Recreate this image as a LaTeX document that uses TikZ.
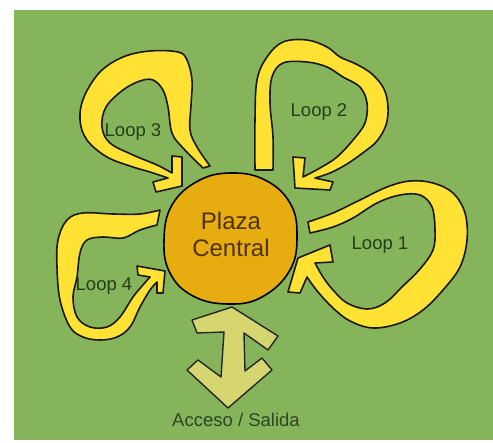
\documentclass[tikz,border=0pt]{standalone}
\usepackage{fontspec}
\setmainfont{Liberation Sans}
\definecolor{lawn}{RGB}{134,180,90}
\definecolor{loopyellow}{RGB}{255,226,52}
\definecolor{plazagold}{RGB}{230,172,16}
\definecolor{gatepale}{RGB}{214,214,112}
\definecolor{labelgreen}{RGB}{36,62,26}
\definecolor{plazabrown}{RGB}{78,50,4}

\begin{document}
\begin{tikzpicture}[x=1pt, y=-1pt, line width=1.6pt, line join=round, line cap=round,
  band/.style={fill=loopyellow, draw=black!90},
  looplabel/.style={anchor=base, inner sep=0pt, text=labelgreen, font=\fontsize{18.5}{22}\selectfont},
  plazalabel/.style={anchor=base, inner sep=0pt, text=plazabrown, font=\fontsize{24}{28}\selectfont}]
  % white margin round the green field fixes the page size
  \fill[white] (0,0) rectangle (493,443);
  \fill[lawn] (14,10) rectangle (493,440);
  % each loop is one closed outline: outer edge, L-shaped head, inner edge back to the tail
  % Loop 3 (top left)
  \draw[band] plot[smooth, tension=0.6] coordinates {(210,166) (197,147) (190,130) (191,105)
      (192,80) (187,60) (178,52) (150,51) (123,57) (100,72) (84,97) (80,120) (87,140)
      (107,157) (133,167) (150,172) (168,178)}
    -- (153,182) -- (156,192) -- (182,186) -- (182,157) -- (172,156) -- (172,173)
    -- plot[smooth, tension=0.6] coordinates {(172,173) (157,165) (133,155) (110,143) (102,127)
      (106,107) (123,90) (140,81) (153,80) (163,90) (168,107) (172,133) (183,148) (203,168)}
    -- cycle;
  % Loop 2 (top right)
  \draw[band] plot[smooth, tension=0.6] coordinates {(255,170) (255,120) (257,80) (267,57)
      (283,42) (307,40) (327,47) (340,57) (356,64) (372,74) (384,89) (388,107) (386,125)
      (377,141) (364,152) (347,164) (330,173) (315,178)}
    -- (333,182) -- (330,190) -- (295,188) -- (293,157) -- (305,158) -- (303,177)
    -- plot[smooth, tension=0.6] coordinates {(303,177) (320,168) (337,157) (353,140) (365,123)
      (367,103) (360,87) (343,77) (327,67) (307,62) (283,63) (272,77) (270,103) (273,137)
      (273,170)}
    -- cycle;
  % Loop 1 (right)
  \draw[band] plot[smooth, tension=0.6] coordinates {(308,222) (333,213) (360,200) (387,187)
      (410,181) (433,183) (453,193) (465,213) (467,240) (460,267) (443,290) (423,310)
      (400,323) (373,328) (350,321) (333,308) (318,292) (307,277)}
    -- (300,293) -- (288,292) -- (298,258) -- (330,245) -- (333,262) -- (315,263)
    -- plot[smooth, tension=0.6] coordinates {(315,263) (323,277) (333,290) (347,303) (367,309)
      (385,303) (402,287) (420,269) (433,250) (435,230) (432,207) (420,195) (400,195)
      (377,203) (353,218) (333,227) (310,233)}
    -- cycle;
  % Loop 4 (left)
  \draw[band] plot[smooth, tension=0.6] coordinates {(160,210) (140,214) (113,214) (83,213)
      (67,220) (58,240) (57,267) (60,300) (70,327) (83,337) (100,340) (117,337) (130,327)
      (140,307) (150,290) (157,282)}
    -- (157,293) -- (163,293) -- (165,271) -- (137,266) -- (138,275) -- (150,277)
    -- plot[smooth, tension=0.6] coordinates {(150,277) (143,285) (133,297) (120,317) (107,327)
      (90,327) (77,317) (73,297) (77,277) (80,253) (87,240) (103,237) (123,238) (140,230)
      (157,225)}
    -- cycle;
  % the plaza
  \draw[fill=plazagold] plot[smooth cycle, tension=0.7] coordinates {(231,173) (265,180)
      (290,203) (297,235) (290,270) (262,297) (228,304) (193,296) (170,273) (164,240)
      (172,205) (198,181)};
  % two-way arrow of the gate
  \draw[fill=gatepale, draw=black!85, line width=1.4pt]
    (192,320) -- (232,307) -- (278,336) -- (268,350) -- (244,333) -- (245,371)
    -- (262,358) -- (272,370) -- (228,408) -- (187,370) -- (198,360) -- (221,377)
    -- (224,332) -- (197,333) -- cycle;
  % labels
  \node[plazalabel] (plaza) at (231,230) {Plaza};
  \node[plazalabel] (central) at (231,257) {Central};
  \node[looplabel] (loopone) at (380,250) {Loop 1};
  \node[looplabel] (looptwo) at (319,117) {Loop 2};
  \node[looplabel] (loopthree) at (133,137) {Loop 3};
  \node[looplabel] (loopfour) at (104,291) {Loop 4};
  \node[looplabel, text=labelgreen!90!gray] (acceso) at (236,427) {Acceso / Salida};
\end{tikzpicture}
\end{document}
